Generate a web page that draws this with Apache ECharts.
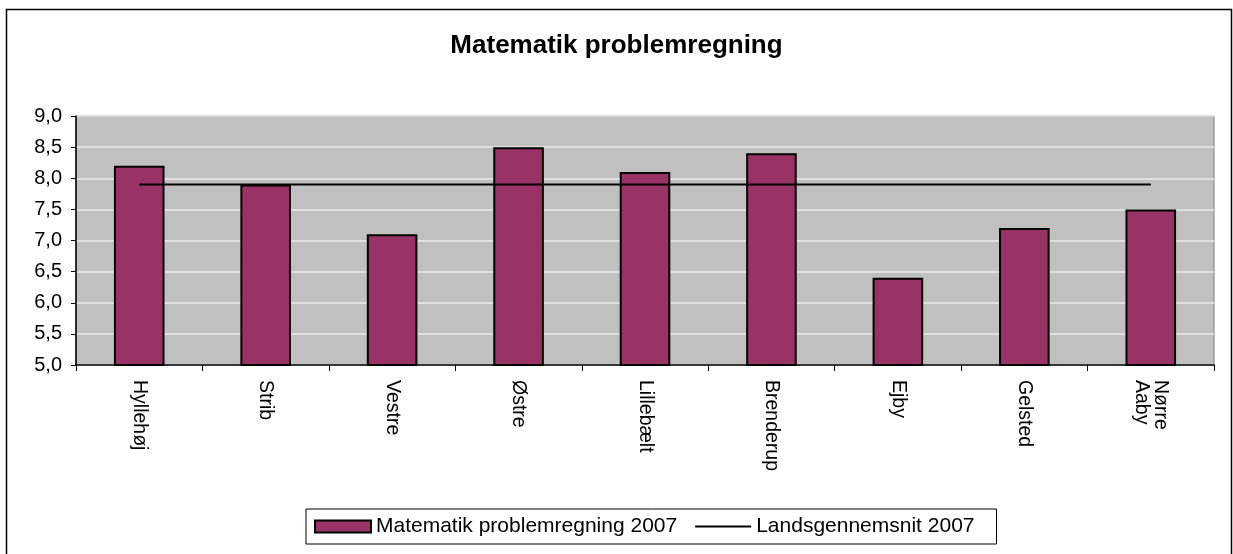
<!DOCTYPE html>
<html>
<head>
<meta charset="utf-8">
<script src="https://cdn.jsdelivr.net/npm/echarts@6/dist/echarts.min.js"></script>
<style>
  html, body { margin: 0; padding: 0; background: #fff; }
  #chart { width: 1233px; height: 554px; }
</style>
</head>
<body>
<div id="chart"></div>
<script>
// School names along the x axis
const schools = ['Hyllehøj', 'Strib', 'Vestre', 'Østre', 'Lillebælt', 'Brenderup', 'Ejby', 'Gelsted', 'Nørre\nAaby'];
// Average problem-solving grade per school, 2007
const scores2007 = [8.2, 7.9, 7.1, 8.5, 8.1, 8.4, 6.4, 7.2, 7.5];
// National average, 2007
const nationalAvg2007 = [7.9, 7.9, 7.9, 7.9, 7.9, 7.9, 7.9, 7.9, 7.9];
// Value axis range and step
const yMin = 5.0, yMax = 9.0, yStep = 0.5;

const barName = 'Matematik problemregning 2007';
const lineName = 'Landsgennemsnit 2007';
const font = 'Liberation Sans, Arial, sans-serif';

const chart = echarts.init(document.getElementById('chart'), null, { renderer: 'canvas' });
chart.setOption({
  backgroundColor: '#ffffff',
  animation: false,
  textStyle: { fontFamily: font, color: '#000' },
  title: {
    text: 'Matematik problemregning',
    left: 'center',
    top: 28,
    textStyle: { fontFamily: font, fontWeight: 'bold', fontSize: 26, color: '#000' }
  },
  graphic: [{
    type: 'rect',
    shape: { x: 6.5, y: 9.5, width: 1225, height: 560 },
    style: { fill: 'none', stroke: '#000', lineWidth: 1.5 },
    silent: true
  }],
  legend: {
    left: 306,
    top: 509,
    padding: [7, 22, 7, 8],
    itemGap: 18,
    itemWidth: 56,
    itemHeight: 12,
    borderColor: '#000',
    borderWidth: 1,
    textStyle: { fontFamily: font, fontSize: 21, color: '#000' },
    data: [
      { name: barName, icon: 'rect' },
      { name: lineName, icon: 'path://M0,0L60,0L60,2L0,2Z' }
    ]
  },
  grid: {
    left: 76, right: 19, top: 116, bottom: 189,
    show: true,
    backgroundColor: '#c0c0c0',
    borderColor: '#808080',
    borderWidth: 1
  },
  xAxis: {
    type: 'category',
    data: schools,
    boundaryGap: true,
    axisLine: { show: true, lineStyle: { color: '#000', width: 1.5 } },
    axisTick: { show: true, length: 6, lineStyle: { color: '#000', width: 1 } },
    axisLabel: {
      interval: 0,
      rotate: -90,
      margin: 15,
      fontFamily: font,
      fontSize: 19.5,
      color: '#000',
      lineHeight: 19
    },
    splitLine: { show: false }
  },
  yAxis: {
    type: 'value',
    min: yMin,
    max: yMax,
    interval: yStep,
    axisLine: { show: true, lineStyle: { color: '#000', width: 1.5 } },
    axisTick: { show: true, length: 5, lineStyle: { color: '#000', width: 1 } },
    axisLabel: {
      margin: 14,
      fontFamily: font,
      fontSize: 20,
      color: '#000',
      formatter: v => v.toFixed(1).replace('.', ',')
    },
    splitLine: { show: true, lineStyle: { color: '#ebebeb', width: 1.5 } }
  },
  series: [
    {
      name: barName,
      type: 'bar',
      data: scores2007,
      barWidth: '40%',
      itemStyle: { color: '#993366', borderColor: '#000', borderWidth: 2 },
      z: 2
    },
    {
      name: lineName,
      type: 'line',
      data: nationalAvg2007,
      symbol: 'none',
      lineStyle: { color: '#000', width: 2 },
      itemStyle: { color: '#000' },
      z: 3
    }
  ]
});
</script>
</body>
</html>
